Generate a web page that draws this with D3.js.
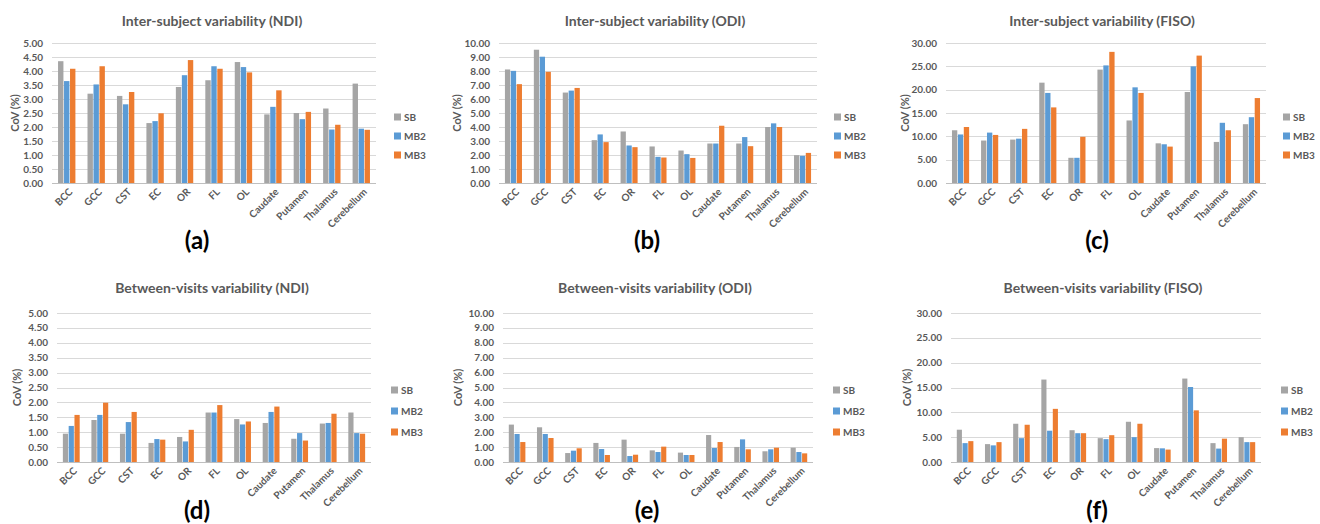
<!DOCTYPE html>
<html>
<head>
<meta charset="utf-8">
<script src="https://cdn.jsdelivr.net/npm/d3@7"></script>
<style>
  body { margin: 0; background: #fff; }
  text { font-family: Lato, "Open Sans", sans-serif; fill: #595959; }
</style>
</head>
<body>
<script>
var categories = ["BCC", "GCC", "CST", "EC", "OR", "FL", "OL", "Caudate", "Putamen", "Thalamus", "Cerebellum"];
var seriesNames = ["SB", "MB2", "MB3"];
var colors = ["#A5A5A5", "#5B9BD5", "#ED7D31"];

// inter-subject variability
var interNDI_SB  = [4.35, 3.19, 3.11, 2.14, 3.43, 3.67, 4.32, 2.45, 2.50, 2.66, 3.55];
var interNDI_MB2 = [3.64, 3.52, 2.81, 2.21, 3.85, 4.17, 4.14, 2.72, 2.28, 1.91, 1.94];
var interNDI_MB3 = [4.08, 4.17, 3.25, 2.49, 4.39, 4.08, 3.95, 3.31, 2.54, 2.08, 1.90];

var interODI_SB  = [8.11, 9.52, 6.46, 3.06, 3.68, 2.61, 2.32, 2.82, 2.82, 4.00, 1.99];
var interODI_MB2 = [8.01, 9.02, 6.60, 3.47, 2.68, 1.87, 2.06, 2.82, 3.28, 4.26, 1.94];
var interODI_MB3 = [7.06, 7.94, 6.79, 2.92, 2.56, 1.82, 1.79, 4.09, 2.63, 4.00, 2.15];

var interFISO_SB  = [11.3, 9.1, 9.3, 21.5, 5.4, 24.3, 13.4, 8.5, 19.5, 8.8, 12.6];
var interFISO_MB2 = [10.4, 10.8, 9.5, 19.3, 5.4, 25.2, 20.5, 8.3, 25.0, 12.9, 14.1];
var interFISO_MB3 = [12.0, 10.3, 11.6, 16.2, 9.9, 28.1, 19.3, 7.8, 27.3, 11.3, 18.2];

// between-visits variability
var visitNDI_SB  = [0.95, 1.41, 0.95, 0.64, 0.84, 1.66, 1.44, 1.31, 0.78, 1.29, 1.66];
var visitNDI_MB2 = [1.21, 1.58, 1.34, 0.77, 0.69, 1.66, 1.26, 1.68, 0.97, 1.31, 0.97];
var visitNDI_MB3 = [1.58, 1.99, 1.68, 0.75, 1.08, 1.91, 1.36, 1.86, 0.72, 1.62, 0.95];

var visitODI_SB  = [2.51, 2.33, 0.60, 1.28, 1.50, 0.78, 0.63, 1.81, 1.01, 0.72, 0.96];
var visitODI_MB2 = [1.88, 1.88, 0.76, 0.87, 0.40, 0.67, 0.47, 0.94, 1.52, 0.85, 0.67];
var visitODI_MB3 = [1.34, 1.61, 0.92, 0.47, 0.49, 1.03, 0.47, 1.34, 0.85, 0.96, 0.58];

var visitFISO_SB  = [6.5, 3.6, 7.7, 16.6, 6.4, 4.8, 8.1, 2.8, 16.8, 3.8, 5.0];
var visitFISO_MB2 = [3.8, 3.35, 4.8, 6.3, 5.8, 4.6, 5.0, 2.75, 15.1, 2.7, 4.0];
var visitFISO_MB3 = [4.2, 4.0, 7.5, 10.7, 5.8, 5.4, 7.7, 2.5, 10.4, 4.7, 4.0];

var ticksNDI = [0, 0.5, 1, 1.5, 2, 2.5, 3, 3.5, 4, 4.5, 5];
var ticksODI = [0, 1, 2, 3, 4, 5, 6, 7, 8, 9, 10];
var ticksFISO = [0, 5, 10, 15, 20, 25, 30];

var panels = [
  { title: "Inter-subject variability (NDI)", tag: "(a)", series: [interNDI_SB, interNDI_MB2, interNDI_MB3], ticks: ticksNDI,
    left: 52, right: 376, top: 43, bottom: 183, titleX: 212, titleY: 26, legendX: 394, legendY: [117, 136, 155], ytX: 15, tagX: 197, tagY: 249 },
  { title: "Inter-subject variability (ODI)", tag: "(b)", series: [interODI_SB, interODI_MB2, interODI_MB3], ticks: ticksODI,
    left: 499, right: 817, top: 43, bottom: 183, titleX: 655, titleY: 26, legendX: 834, legendY: [117, 136, 155], ytX: 457, tagX: 647, tagY: 249 },
  { title: "Inter-subject variability (FISO)", tag: "(c)", series: [interFISO_SB, interFISO_MB2, interFISO_MB3], ticks: ticksFISO,
    left: 946, right: 1266, top: 43, bottom: 183, titleX: 1102, titleY: 26, legendX: 1283, legendY: [117, 136, 155], ytX: 905, tagX: 1097, tagY: 249 },
  { title: "Between-visits variability (NDI)", tag: "(d)", series: [visitNDI_SB, visitNDI_MB2, visitNDI_MB3], ticks: ticksNDI,
    left: 57, right: 371, top: 313, bottom: 462, titleX: 212, titleY: 293, legendX: 391, legendY: [390, 411, 432], ytX: 17, tagX: 197, tagY: 519 },
  { title: "Between-visits variability (ODI)", tag: "(e)", series: [visitODI_SB, visitODI_MB2, visitODI_MB3], ticks: ticksODI,
    left: 503, right: 813, top: 313, bottom: 462, titleX: 655, titleY: 293, legendX: 833, legendY: [390, 411, 432], ytX: 458, tagX: 647, tagY: 519 },
  { title: "Between-visits variability (FISO)", tag: "(f)", series: [visitFISO_SB, visitFISO_MB2, visitFISO_MB3], ticks: ticksFISO,
    left: 951, right: 1261, top: 313, bottom: 462, titleX: 1103, titleY: 293, legendX: 1281, legendY: [390, 411, 432], ytX: 907, tagX: 1097, tagY: 519 }
];

var svg = d3.select("body").append("svg")
  .attr("width", 1320)
  .attr("height", 524);

panels.forEach(function(p) {
  var g = svg.append("g");
  var ymax = p.ticks[p.ticks.length - 1];
  var y = d3.scaleLinear().domain([0, ymax]).range([p.bottom, p.top]);
  var x0 = d3.scaleBand().domain(categories).range([p.left, p.right]).paddingInner(0.39).paddingOuter(0.195);
  var x1 = d3.scaleBand().domain(seriesNames).range([0, x0.bandwidth()]);

  // grid
  g.selectAll(".grid").data(p.ticks).enter().append("line")
    .attr("x1", p.left).attr("x2", p.right)
    .attr("y1", d => Math.round(y(d)) + 0.5).attr("y2", d => Math.round(y(d)) + 0.5)
    .attr("stroke", d => d === 0 ? "#BFBFBF" : "#D9D9D9")
    .attr("stroke-width", 1);

  // y axis labels
  g.selectAll(".ytick").data(p.ticks).enter().append("text")
    .attr("x", p.left - 9)
    .attr("y", d => y(d))
    .attr("dy", "0.35em")
    .attr("text-anchor", "end")
    .attr("font-size", 10)
    .attr("font-weight", 700)
    .text(d => d.toFixed(2));

  // bars
  var groups = g.selectAll(".grp").data(categories).enter().append("g")
    .attr("transform", d => "translate(" + x0(d) + ",0)");
  groups.selectAll("rect").data((c, i) => seriesNames.map((s, k) => ({ s: s, k: k, v: p.series[k][i] })))
    .enter().append("rect")
    .attr("x", d => x1(d.s) + 0.3)
    .attr("width", x1.bandwidth() - 0.6)
    .attr("y", d => y(d.v))
    .attr("height", d => y(0) - y(d.v))
    .attr("fill", d => colors[d.k]);

  // category labels
  g.selectAll(".xlab").data(categories).enter().append("text")
    .attr("transform", d => "translate(" + (x0(d) + x0.bandwidth() / 2 + 4) + "," + (p.bottom + 7) + ") rotate(-45)")
    .attr("text-anchor", "end")
    .attr("dy", "0.35em")
    .attr("font-size", 10)
    .attr("font-weight", 700)
    .text(d => d);

  // y title
  g.append("text")
    .attr("transform", "translate(" + p.ytX + "," + ((p.top + p.bottom) / 2) + ") rotate(-90)")
    .attr("text-anchor", "middle")
    .attr("dy", "0.35em")
    .attr("font-size", 11)
    .attr("font-weight", 700)
    .text("CoV (%)");

  // title
  g.append("text")
    .attr("x", p.titleX).attr("y", p.titleY)
    .attr("text-anchor", "middle")
    .attr("font-size", 14)
    .attr("font-weight", 700)
    .text(p.title);

  // legend
  seriesNames.forEach(function(s, k) {
    g.append("rect")
      .attr("x", p.legendX).attr("y", p.legendY[k] - 3.5)
      .attr("width", 7).attr("height", 7)
      .attr("fill", colors[k]);
    g.append("text")
      .attr("x", p.legendX + 10).attr("y", p.legendY[k])
      .attr("dy", "0.35em")
      .attr("font-size", 10)
      .attr("font-weight", 700)
      .text(s);
  });

  // panel tag
  g.append("text")
    .attr("x", p.tagX).attr("y", p.tagY)
    .attr("text-anchor", "middle")
    .attr("font-family", "'Liberation Sans', Arial, sans-serif")
    .attr("font-size", 24)
    .attr("font-weight", 700)
    .style("fill", "#000")
    .text(p.tag);
});
</script>
</body>
</html>
